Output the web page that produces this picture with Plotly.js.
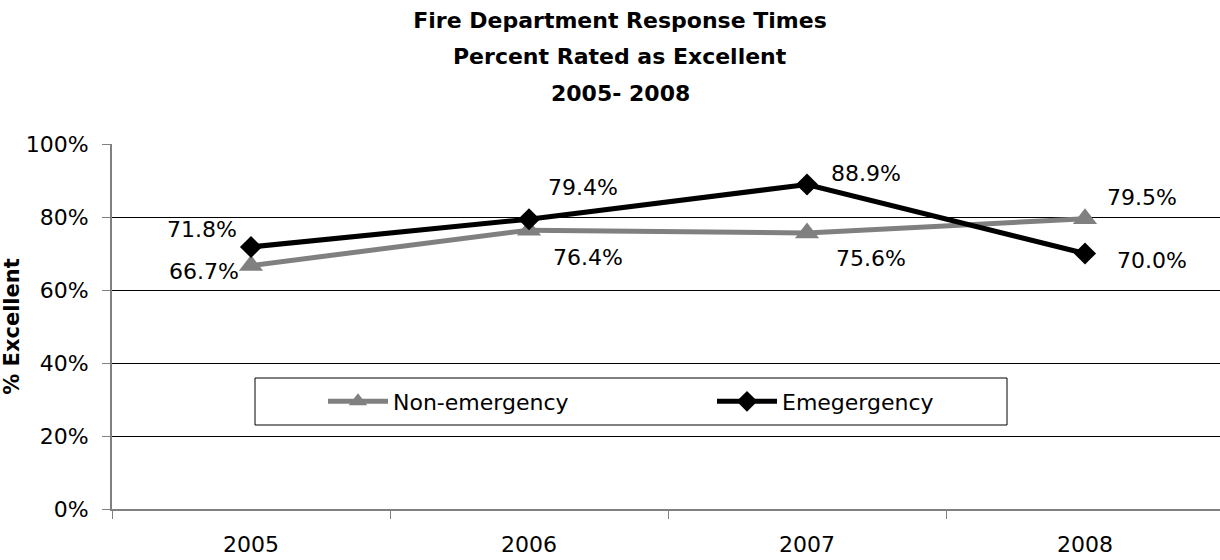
<!DOCTYPE html>
<html>
<head>
<meta charset="utf-8">
<script src="https://cdn.plot.ly/plotly-3.0.1.min.js"></script>
<style>html,body{margin:0;padding:0;background:#fff}#chart{width:1220px;height:560px}</style>
</head>
<body>
<div id="chart"></div>
<script>
const years = ['2005', '2006', '2007', '2008'];
const nonEmergency = [66.7, 76.4, 75.6, 79.5];
const emergency = [71.8, 79.4, 88.9, 70.0];
const nonEmergencyLabels = ['66.7%', '76.4%', '75.6%', '79.5%'];
const emergencyLabels = ['71.8%', '79.4%', '88.9%', '70.0%'];
const yTicks = [0, 20, 40, 60, 80, 100];
const yTickLabels = ['0%', '20%', '40%', '60%', '80%', '100%'];
const titleLines = ['Fire Department Response Times', 'Percent Rated as Excellent', '2005- 2008'];

const FONT = 'DejaVu Sans, sans-serif';

// label placement (style only): [xanchor, xshift, yshift]
const nonEmergencyLabelStyle = [['right', -10, -6], ['left', 22, -27], ['left', 27, -25], ['left', 20, 21]];
const emergencyLabelStyle = [['right', -12, 17], ['left', 17, 32], ['left', 22, 11], ['left', 30, -7]];

const traces = [
  {
    type: 'scatter', mode: 'lines+markers', name: 'Non-emergency',
    x: years, y: nonEmergency,
    line: {color: '#808080', width: 5},
    marker: {symbol: 'triangle-up', size: 21, color: '#808080'},
    cliponaxis: false
  },
  {
    type: 'scatter', mode: 'lines+markers', name: 'Emegergency',
    x: years, y: emergency,
    line: {color: '#000000', width: 5},
    marker: {symbol: 'diamond', size: 17, color: '#000000'},
    cliponaxis: false
  }
];

const PL = 112, PT = 144, PB = 509, PR = 1220;
const PW = PR - PL, PH = PB - PT;
const px = v => (v - PL) / PW;
const py = v => (PB - v) / PH;

const annotations = [];
function addLabels(vals, labels, style) {
  vals.forEach((v, i) => {
    annotations.push({
      x: years.indexOf(years[i]), y: v, xref: 'x', yref: 'y', text: labels[i], showarrow: false,
      xanchor: style[i][0], yanchor: 'middle', xshift: style[i][1], yshift: style[i][2],
      font: {family: FONT, size: 22, color: '#000'}
    });
  });
}
addLabels(nonEmergency, nonEmergencyLabels, nonEmergencyLabelStyle);
addLabels(emergency, emergencyLabels, emergencyLabelStyle);

annotations.push(
  {text: '<b>' + titleLines[1] + '</b>', xref: 'paper', yref: 'paper', x: px(620), y: py(57), showarrow: false, xanchor: 'center', yanchor: 'middle', font: {family: FONT, size: 22, color: '#000'}},
  {text: '<b>' + titleLines[2] + '</b>', xref: 'paper', yref: 'paper', x: px(620), y: py(93), showarrow: false, xanchor: 'center', yanchor: 'middle', font: {family: FONT, size: 22, color: '#000'}}
);

const layout = {
  width: 1220, height: 560,
  paper_bgcolor: '#fff', plot_bgcolor: '#fff',
  margin: {l: PL, r: 0, t: PT, b: 560 - PB},
  font: {family: FONT, color: '#000'},
  showlegend: true,
  title: {
    text: '<b>' + titleLines[0] + '</b>',
    font: {family: FONT, size: 22, color: '#000'},
    xref: 'container', x: 620 / 1220, xanchor: 'center',
    yref: 'container', y: 1 - 20 / 560, yanchor: 'middle'
  },
  annotations: annotations,
  xaxis: {
    type: 'category', range: [-0.5, -0.5 + PW / 278],
    tickson: 'boundaries', ticks: 'outside', ticklen: 8, tickcolor: '#808080', tickwidth: 1,
    showline: true, linecolor: '#808080', linewidth: 2,
    showgrid: false, zeroline: false,
    tickfont: {family: FONT, size: 22, color: '#000'},
    ticklabelstandoff: 15,
    fixedrange: true
  },
  yaxis: {
    range: [0, 100], tickvals: yTicks, ticktext: yTickLabels,
    ticks: 'outside', ticklen: 8, tickcolor: '#808080', tickwidth: 1,
    showline: true, linecolor: '#808080', linewidth: 2,
    showgrid: true, gridcolor: '#000', gridwidth: 1, zeroline: false,
    tickfont: {family: FONT, size: 22, color: '#000'},
    ticklabelstandoff: 9,
    title: {text: '<b>% Excellent</b>', font: {family: FONT, size: 21, color: '#000'}, standoff: 0},
    automargin: false,
    fixedrange: true
  },
  legend: {
    orientation: 'h', x: px(323), xanchor: 'left', y: py(401.5), yanchor: 'middle',
    bgcolor: 'rgba(0,0,0,0)', borderwidth: 0,
    font: {family: FONT, size: 22, color: '#000'},
    entrywidth: 314, entrywidthmode: 'pixels', itemwidth: 60
  },
  shapes: [
    {type: 'rect', xref: 'paper', yref: 'paper', x0: px(255), x1: px(1007), y0: py(425), y1: py(378), line: {color: '#000', width: 1}, fillcolor: '#fff', layer: 'above'}
  ]
};

Plotly.newPlot('chart', traces, layout, {displayModeBar: false, staticPlot: true});
</script>
</body>
</html>
